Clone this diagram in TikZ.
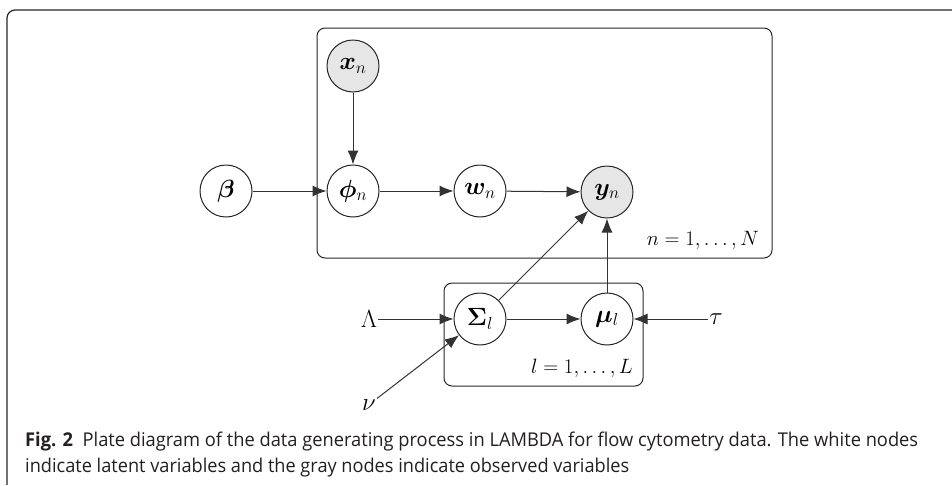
\documentclass[tikz,border=0pt]{standalone}
\usepackage{amsmath}
\usepackage{bm}
\usepackage{fontspec}
\newfontfamily\capfont{Open Sans}
\usetikzlibrary{arrows.meta}
\definecolor{capgray}{HTML}{231F20}
\definecolor{obsfill}{HTML}{E6E6E6}
\begin{document}
\begin{tikzpicture}[x=1pt,y=-1pt,
  every node/.style={font=\fontsize{25}{30}\selectfont},
  latentnode/.style={draw=black!85,line width=1pt,circle,minimum size=52pt,inner sep=0pt,fill=white},
  obsnode/.style={latentnode,fill=obsfill},
  conn/.style={draw=black!80,line width=1pt,-{Latex[length=14pt,width=11pt]}},
  plate/.style={draw=black!85,line width=1pt,rounded corners=8pt},
  platelabel/.style={anchor=east,inner sep=0pt,font=\fontsize{21}{25}\selectfont},
  paramnode/.style={inner sep=1pt}]
\useasboundingbox (0,0) rectangle (952,485);
% outer frame
\draw[line width=1.2pt,rounded corners=8pt,black!85] (7,485) -- (7,10) -- (952,10);
% plates
\draw[plate] (317,28) rectangle (772,258);
\draw[plate] (444,283) rectangle (643,386);
\node[platelabel] (platen) at (759,240) {$n=1,\ldots,N$};
\node[platelabel] (platel) at (633,368) {$l=1,\ldots,L$};
% nodes
\node[obsnode] (x) at (353,66) {$\bm{x}_n$};
\node[latentnode] (beta) at (226,191) {$\bm{\beta}$};
\node[latentnode] (phi) at (353,191) {$\bm{\phi}_n$};
\node[latentnode] (w) at (480,191) {$\bm{w}_n$};
\node[obsnode] (y) at (607,192) {$\bm{y}_n$};
\node[latentnode] (Sigma) at (480,319) {$\bm{\Sigma}_l$};
\node[latentnode] (mu) at (607,319) {$\bm{\mu}_l$};
\node[paramnode] (Lambda) at (369,319) {$\Lambda$};
\node[paramnode] (tau) at (716,319) {$\tau$};
\node[paramnode] (nu) at (369,405) {$\nu$};
% edges
\draw[conn] (x) -- (phi);
\draw[conn] (beta) -- (phi);
\draw[conn] (phi) -- (w);
\draw[conn] (w) -- (y);
\draw[conn] (Sigma) -- (y);
\draw[conn] (mu) -- (y);
\draw[conn] (Sigma) -- (mu);
\draw[conn] (Lambda) -- (Sigma);
\draw[conn] (tau) -- (mu);
\draw[conn] (nu.north east) -- (Sigma);
% caption
\node[anchor=base west,inner sep=0pt,text=capgray,font=\capfont\fontsize{19}{23}\selectfont] (cap1) at (25,446)
  {\resizebox{893pt}{\height}{\textbf{Fig. 2}\ \ Plate diagram of the data generating process in LAMBDA for flow cytometry data. The white nodes}};
\node[anchor=base west,inner sep=0pt,text=capgray,font=\capfont\fontsize{19}{23}\selectfont] (cap2) at (25,472)
  {\resizebox{604pt}{\height}{indicate latent variables and the gray nodes indicate observed variables}};
\end{tikzpicture}
\end{document}
